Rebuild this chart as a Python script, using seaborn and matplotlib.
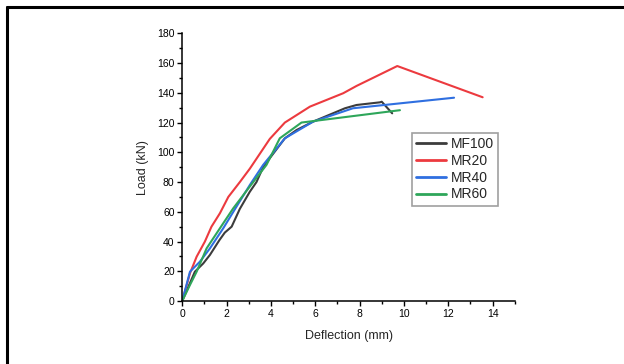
import matplotlib
matplotlib.use("Agg")
import matplotlib.pyplot as plt
import seaborn as sns
import pandas as pd
from matplotlib.lines import Line2D
from matplotlib.ticker import MultipleLocator

# Data
mf100_x = [0, 0.57, 0.95, 1.25, 1.68, 1.92, 2.23, 2.6, 3.05, 3.35, 3.65, 4.1, 4.63, 5.16, 5.9, 7.34, 7.86, 8.92, 9.0, 9.47]
mf100_y = [0, 19.7, 25.3, 31, 41, 46, 50, 62, 73.5, 80, 90, 99, 109.4, 115, 120.6, 129.6, 131.8, 133.6, 134, 126.2]

mr20_x = [0, 0.35, 0.65, 1.02, 1.32, 1.7, 2.08, 2.6, 3.05, 3.5, 3.95, 4.63, 5.76, 7.26, 7.86, 9.7, 13.55]
mr20_y = [0, 18.6, 29.8, 39.9, 50, 59, 70, 80, 89, 99, 109, 120, 130.7, 139.7, 144.6, 158, 137]

mr40_x = [0, 0.35, 0.8, 1.25, 1.85, 2.45, 3.05, 3.65, 4.63, 5.9, 7.7, 12.26]
mr40_y = [0, 19.7, 26.5, 35.4, 48.9, 63.5, 78, 91.5, 109.4, 120.6, 129.6, 136.7]

mr60_x = [0, 0.35, 0.65, 1.1, 1.7, 2.3, 3.05, 3.8, 4.4, 5.38, 9.82]
mr60_y = [0, 10.8, 19.7, 35.4, 48.9, 62.3, 77, 91.5, 109.4, 120, 128.3]

series_names = ["MF100", "MR20", "MR40", "MR60"]
colors = ["#3c3c3c", "#ec3a3f", "#2f6fe0", "#2ea65a"]

x_ticks = [0, 2, 4, 6, 8, 10, 12, 14]
y_ticks = [0, 20, 40, 60, 80, 100, 120, 140, 160, 180]

frames = []
for name, xs, ys in zip(series_names,
                        [mf100_x, mr20_x, mr40_x, mr60_x],
                        [mf100_y, mr20_y, mr40_y, mr60_y]):
    frames.append(pd.DataFrame({"Deflection": xs, "Load": ys, "Series": name}))
df = pd.concat(frames, ignore_index=True)

sns.set_theme(style="ticks")
plt.rcParams["font.family"] = ["Liberation Sans", "DejaVu Sans"]

fig = plt.figure(figsize=(6.24, 3.64), dpi=100)
ax = fig.add_axes([0.292, 0.173, 0.533, 0.7355])

sns.lineplot(data=df, x="Deflection", y="Load", hue="Series",
             palette=dict(zip(series_names, colors)), sort=False,
             estimator=None, units="Series", linewidth=1.5, ax=ax)

ax.set_xlim(0, 15)
ax.set_ylim(0, 180)
ax.set_xticks(x_ticks)
ax.set_yticks(y_ticks)
ax.xaxis.set_minor_locator(MultipleLocator(1))
ax.yaxis.set_minor_locator(MultipleLocator(10))
ax.tick_params(axis="both", which="major", length=3.5, width=1, labelsize=7.5,
               colors="black", pad=2)
ax.tick_params(axis="both", which="minor", length=2, width=1, colors="black")
for s in ["top", "right"]:
    ax.spines[s].set_visible(False)
for s in ["left", "bottom"]:
    ax.spines[s].set_linewidth(1.1)
    ax.spines[s].set_color("black")

ax.set_xlabel("Deflection (mm)", fontsize=9, labelpad=8)
ax.set_ylabel("Load (kN)", fontsize=9, labelpad=6)

leg = ax.legend(loc="upper left", bbox_to_anchor=(0.69, 0.628), fontsize=10,
                frameon=True, fancybox=False, handlelength=2.2,
                handletextpad=0.3, borderpad=0.3, labelspacing=0.2,
                borderaxespad=0)
leg.get_frame().set_edgecolor("#888888")
leg.get_frame().set_linewidth(1.2)
for h in leg.get_lines():
    h.set_linewidth(2)

# Outer frame lines (left and top)
fig.add_artist(Line2D([6.5/624, 6.5/624], [0, 1 - 6.5/364], color="black",
                      linewidth=2.2, transform=fig.transFigure))
fig.add_artist(Line2D([6.5/624, 1], [1 - 7/364, 1 - 7/364], color="black",
                      linewidth=2.2, transform=fig.transFigure))

fig.savefig("out.png", dpi=100)
